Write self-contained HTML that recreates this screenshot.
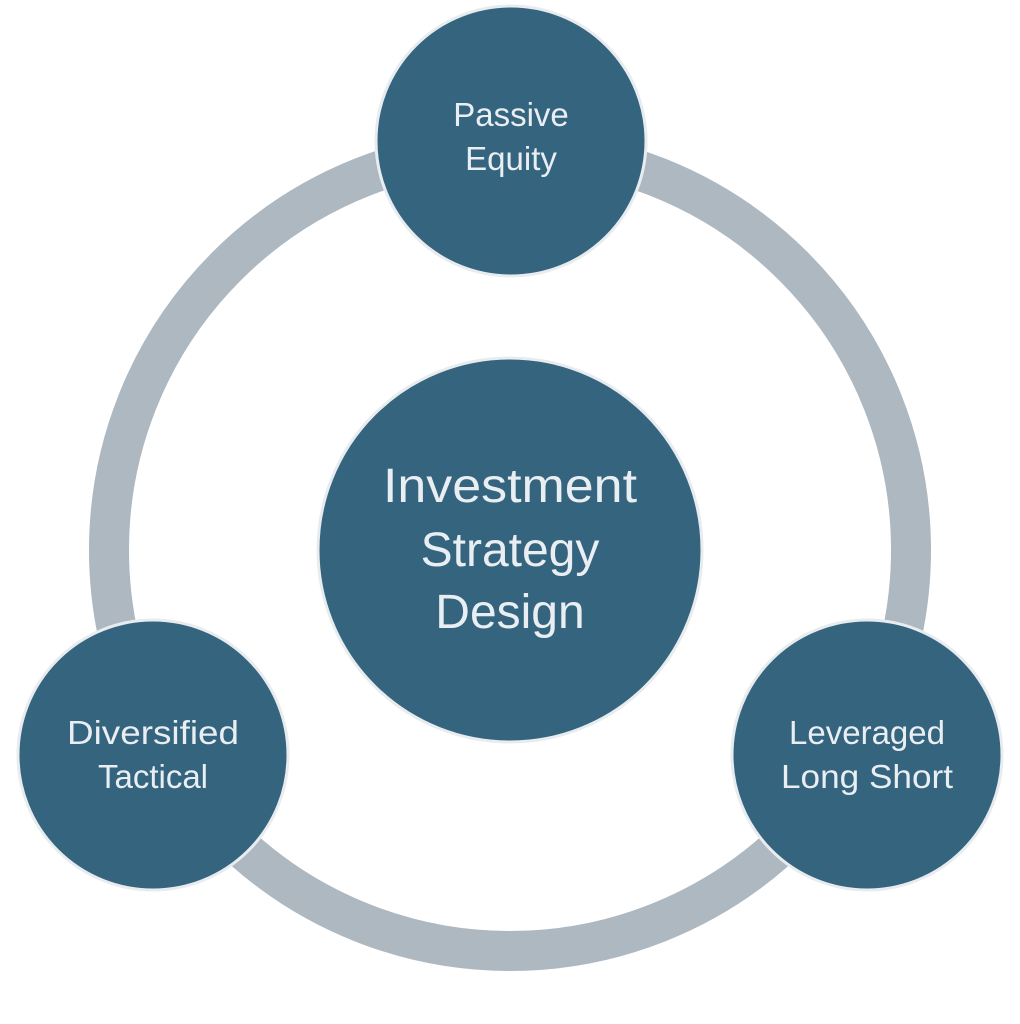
<!DOCTYPE html>
<html><head><meta charset="utf-8"><style>
html,body{margin:0;padding:0;background:#fff;}
svg{display:block}
text{font-family:"Liberation Sans",sans-serif;fill:#e9eef2;text-anchor:middle}
</style></head><body>
<svg width="1020" height="1024" viewBox="0 0 1020 1024">
<circle cx="510" cy="550" r="401" fill="none" stroke="#adb8c1" stroke-width="40"/>
<g fill="#35647f" stroke="#e8ecef" stroke-width="3">
<circle cx="510" cy="550" r="192"/>
<circle cx="511" cy="141" r="135"/>
<circle cx="153" cy="755" r="135"/>
<circle cx="867" cy="755" r="135"/>
</g>
<text x="510" y="502" font-size="48" textLength="254" lengthAdjust="spacingAndGlyphs">Investment</text>
<text x="510" y="566" font-size="48">Strategy</text>
<text x="510" y="628" font-size="48">Design</text>
<text x="511" y="126" font-size="33">Passive</text>
<text x="511" y="170" font-size="33">Equity</text>
<text x="153" y="744" font-size="33" textLength="172" lengthAdjust="spacingAndGlyphs">Diversified</text>
<text x="153" y="788" font-size="33">Tactical</text>
<text x="867" y="744" font-size="33">Leveraged</text>
<text x="867" y="788" font-size="33" textLength="172" lengthAdjust="spacingAndGlyphs">Long Short</text>
</svg>
</body></html>
